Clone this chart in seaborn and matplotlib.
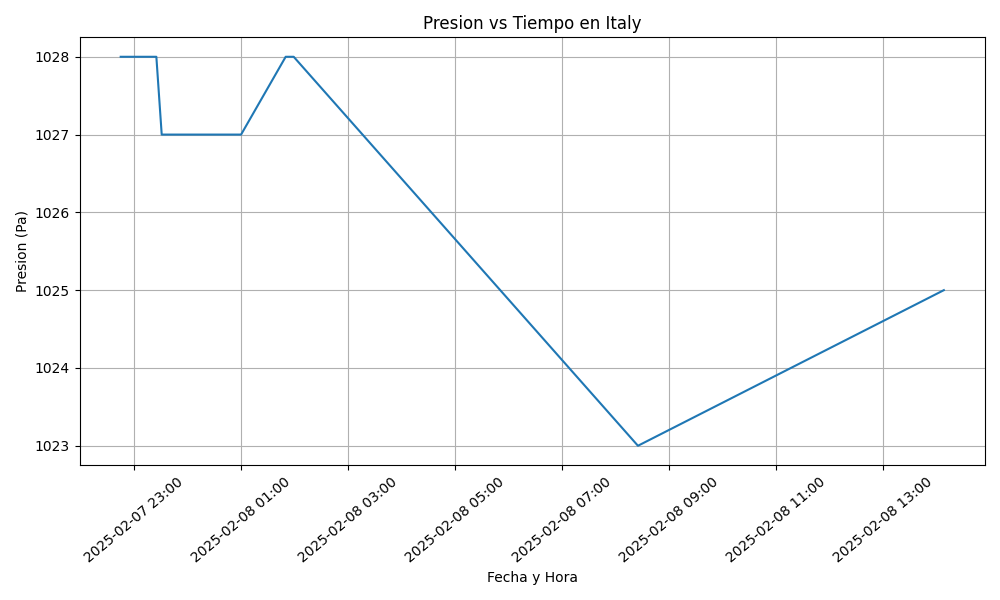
import pandas as pd
import matplotlib
matplotlib.use('Agg')
import matplotlib.pyplot as plt
import matplotlib.dates as mdates
import seaborn as sns

# readings
fechas = ['2025-02-07 22:45', '2025-02-07 23:25', '2025-02-07 23:31',
          '2025-02-08 01:00', '2025-02-08 01:50', '2025-02-08 01:59',
          '2025-02-08 08:25', '2025-02-08 14:08']
presion = [1028, 1028, 1027, 1027, 1028, 1028, 1023, 1025]

df = pd.DataFrame({'Fecha y Hora': pd.to_datetime(fechas), 'Presion (Pa)': presion})

fig, ax = plt.subplots(figsize=(10, 6), dpi=100)
sns.lineplot(data=df, x='Fecha y Hora', y='Presion (Pa)', ax=ax, color='#1f77b4')

ax.xaxis.set_major_locator(mdates.HourLocator(byhour=range(1, 24, 2)))
ax.xaxis.set_major_formatter(mdates.DateFormatter('%Y-%m-%d %H:%M'))
plt.xticks(rotation=40)
ax.set_title('Presion vs Tiempo en Italy')
ax.set_xlabel('Fecha y Hora')
ax.set_ylabel('Presion (Pa)')
ax.grid(True)
plt.tight_layout()
plt.savefig('out.png')
